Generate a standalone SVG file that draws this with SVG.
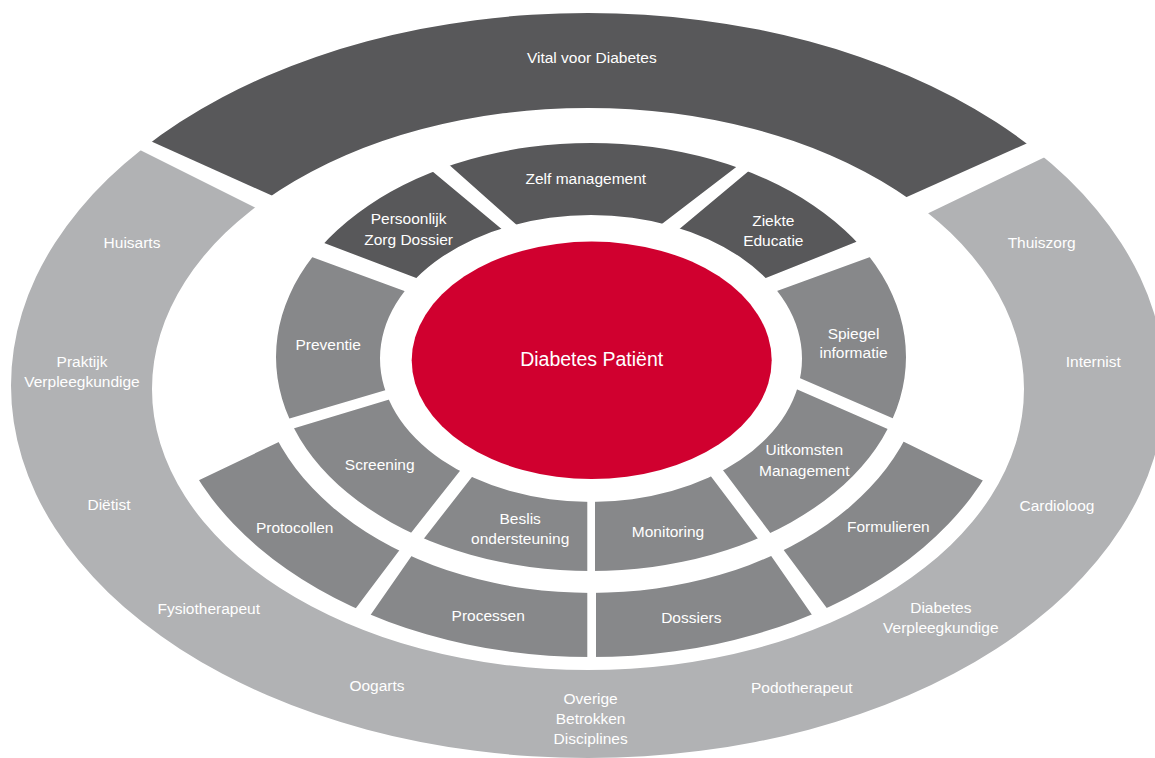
<svg xmlns="http://www.w3.org/2000/svg" width="1155" height="758" viewBox="0 0 1155 758">
<style>
.dark{fill:#58585a}
.mid{fill:#87888a}
.light{fill:#b1b2b4}
.red{fill:#d0002f}
text{font-family:"Liberation Sans",Arial,sans-serif;font-size:15.5px;fill:#ffffff;text-anchor:middle}
.big{font-size:19.5px}
</style>
<defs>
<clipPath id="clipBand"><path clip-rule="evenodd" d="M11,385.5 a577,372.5 0 1,0 1154,0 a577,372.5 0 1,0 -1154,0 Z M152,389 a436,281 0 1,0 872,0 a436,281 0 1,0 -872,0 Z"/></clipPath>
<clipPath id="clipA"><path clip-rule="evenodd" d="M276,357 a315,214 0 1,0 630,0 a315,214 0 1,0 -630,0 Z M380,358.5 a211,143.5 0 1,0 422,0 a211,143.5 0 1,0 -422,0 Z"/></clipPath>
<clipPath id="clipB"><path clip-rule="evenodd" d="M161,357 a430,300 0 1,0 860,0 a430,300 0 1,0 -860,0 Z M256,357 a335,236 0 1,0 670,0 a335,236 0 1,0 -670,0 Z"/></clipPath>
</defs>
<rect width="1155" height="758" fill="#ffffff"/>

<g id="outer-band">
  <g id="vital-voor-diabetes">
    <polygon class="dark" clip-path="url(#clipBand)" points="97,-10 97,117 294,205.5 887.7,205.4 1084,117.9 1084,-10"/>
    <text x="591.8" y="62.8">Vital voor Diabetes</text>
  </g>
  <g id="zorgverleners">
    <polygon class="light" clip-path="url(#clipBand)" points="-50,126 92,126 276,218 908,223 1095,133 1200,133 1200,800 -50,800"/>
    <text x="132" y="248">Huisarts</text>
    <text x="1041.7" y="248">Thuiszorg</text>
    <text x="82" y="367.2">Praktijk<tspan x="82" y="387.2">Verpleegkundige</tspan></text>
    <text x="1093.3" y="367.2">Internist</text>
    <text x="109" y="509.5">Diëtist</text>
    <text x="1057" y="510.5">Cardioloog</text>
    <text x="208.7" y="613.8">Fysiotherapeut</text>
    <text x="940.8" y="612.8">Diabetes<tspan x="940.8" y="632.6">Verpleegkundige</tspan></text>
    <text x="377" y="690.5">Oogarts</text>
    <text x="801.8" y="692.8">Podotherapeut</text>
    <text x="590.6" y="703.8">Overige<tspan x="590.6" y="724">Betrokken</tspan><tspan x="590.6" y="744.4">Disciplines</tspan></text>
  </g>
</g>

<g id="ring-b">
  <g id="protocollen">
    <polygon class="mid" clip-path="url(#clipB)" points="591,357 292,435.7 163.2,497.2 230,610 331,641.3 404.3,543.7"/>
    <text x="294.7" y="533.2">Protocollen</text>
  </g>
  <g id="processen">
    <polygon class="mid" clip-path="url(#clipB)" points="591,357 415.7,550.1 345.5,651.1 460,700 587.3,700 587.3,580"/>
    <text x="488.2" y="620.5">Processen</text>
  </g>
  <g id="dossiers">
    <polygon class="mid" clip-path="url(#clipB)" points="591,357 596,580 596,700 720,700 836.1,649.6 766,548.5"/>
    <text x="691.3" y="622.8">Dossiers</text>
  </g>
  <g id="formulieren">
    <polygon class="mid" clip-path="url(#clipB)" points="591,357 779,543.7 852.1,642.1 950,600 1019.3,498.3 891,435.6"/>
    <text x="888.3" y="531.5">Formulieren</text>
  </g>
</g>

<g id="ring-a">
  <g id="zelf-management">
    <polygon class="dark" clip-path="url(#clipA)" points="591,357 522.7,230.3 422.8,141.4 594,95 765.1,145 655.3,228.9"/>
    <text x="585.8" y="183.8">Zelf management</text>
  </g>
  <g id="ziekte-educatie">
    <polygon class="dark" clip-path="url(#clipA)" points="591,357 672.2,235.1 777.4,147 870,150 893.9,226.9 757.6,281.3"/>
    <text x="773.3" y="226.2">Ziekte<tspan x="773.3" y="245.8">Educatie</tspan></text>
  </g>
  <g id="spiegel-informatie">
    <polygon class="mid" clip-path="url(#clipA)" points="591,357 774.2,292 906.9,243.6 970,340 929.4,434.1 795,376.1"/>
    <text x="853.5" y="338.8">Spiegel<tspan x="853.5" y="358.2">informatie</tspan></text>
  </g>
  <g id="uitkomsten-management">
    <polygon class="mid" clip-path="url(#clipA)" points="591,357 791,386.8 922.6,444.3 900,560 793.4,563.6 718.5,464.3"/>
    <text x="804.3" y="454.8">Uitkomsten<tspan x="804.3" y="475.5">Management</tspan></text>
  </g>
  <g id="monitoring">
    <polygon class="mid" clip-path="url(#clipA)" points="591,357 706.9,470.9 780.1,568 700,620 595,620 595,490"/>
    <text x="668" y="536.5">Monitoring</text>
  </g>
  <g id="beslis-ondersteuning">
    <polygon class="mid" clip-path="url(#clipA)" points="591,357 587.3,490 587.3,620 480,610 402.1,566.5 476.6,471"/>
    <text x="520.2" y="523.8">Beslis<tspan x="520.2" y="543.8">ondersteuning</tspan></text>
  </g>
  <g id="screening">
    <polygon class="mid" clip-path="url(#clipA)" points="591,357 465,464.4 388.5,561.4 280,520 255.7,439.9 396.7,397.3"/>
    <text x="379.7" y="469.8">Screening</text>
  </g>
  <g id="preventie">
    <polygon class="mid" clip-path="url(#clipA)" points="591,357 393.7,387.7 251.6,429.6 215,340 275.1,243.5 409.2,292.8"/>
    <text x="328.2" y="349.8">Preventie</text>
  </g>
  <g id="persoonlijk-zorg-dossier">
    <polygon class="dark" clip-path="url(#clipA)" points="591,357 424.2,281.1 287.6,229.1 330,170 403.3,147.1 508.8,235.1"/>
    <text x="408.6" y="223.8">Persoonlijk<tspan x="408.6" y="244.8">Zorg Dossier</tspan></text>
  </g>
</g>

<g id="diabetes-patient">
  <ellipse class="red" cx="591.7" cy="360.3" rx="180" ry="118.7"/>
  <text class="big" x="591.7" y="365.5">Diabetes Patiënt</text>
</g>
</svg>
